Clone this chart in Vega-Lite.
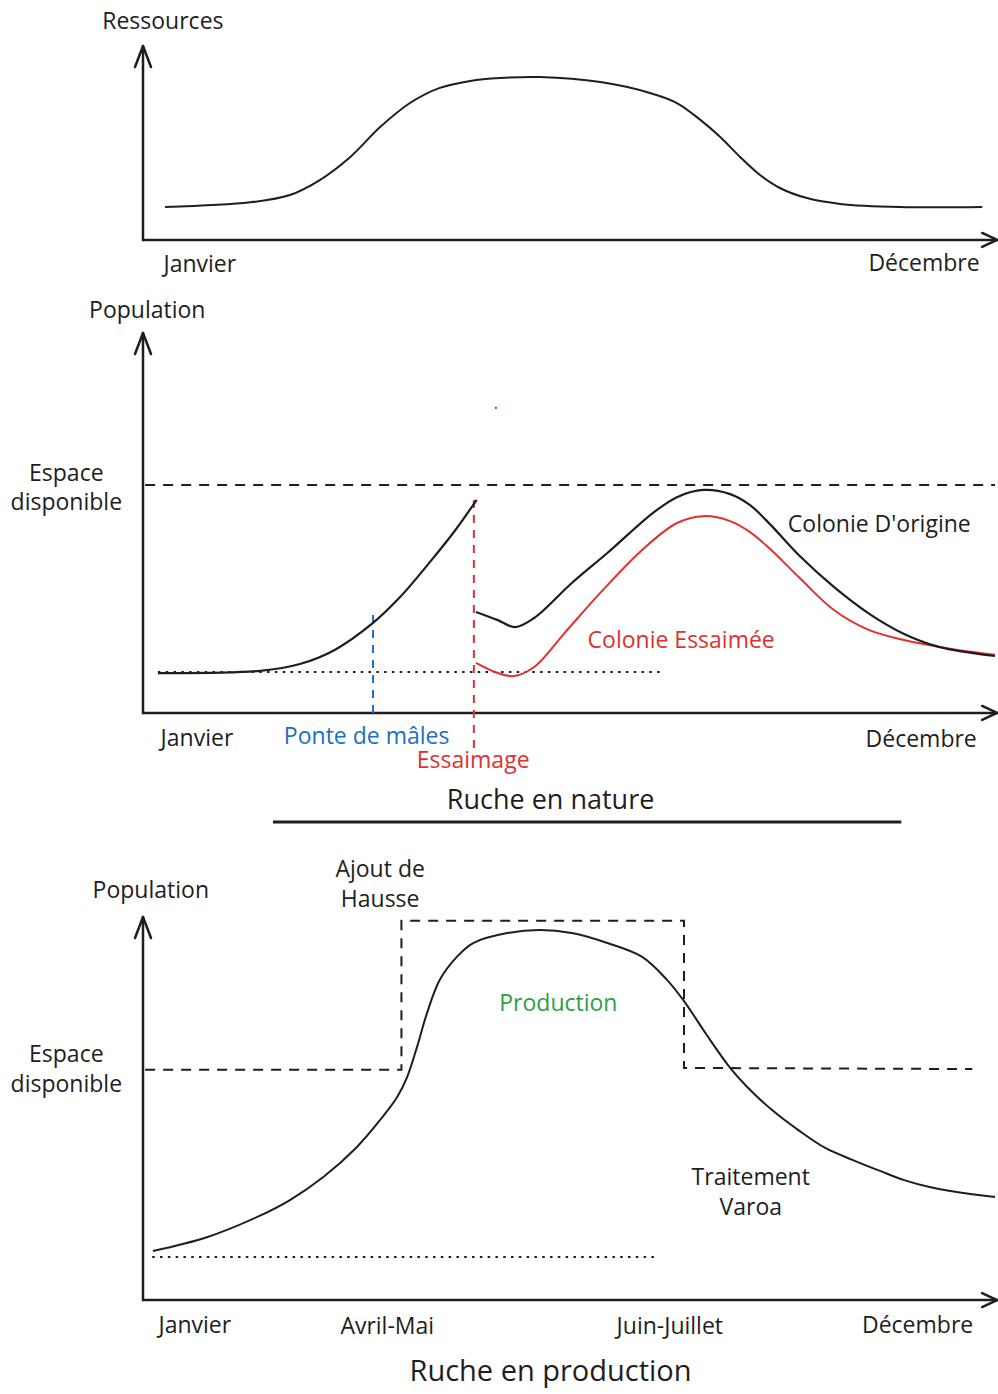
{
  "$schema": "https://vega.github.io/schema/vega-lite/v6.json",
  "autosize": {"type": "none"},
  "padding": {"left": 143, "top": 0, "right": 855, "bottom": 1394},
  "background": "white",
  "config": {"view": {"stroke": null}, "text": {"font": "Open Sans"}},
  "bounds": "flush",
  "spacing": 0,
  "resolve": {"scale": {"x": "independent", "y": "independent", "color": "independent", "shape": "independent"}},
  "datasets": {
    "axes": [{"m": 0, "v": 0, "m2": 12.03, "v2": 0}, {"m": 0, "v": 0, "m2": 0, "v2": 100}],
    "fleches": [{"m": 12.03, "v": 0, "axe": "x"}, {"m": 0, "v": 100, "axe": "y"}],
    "ressources": [
      {"m": 0.31, "v": 17.0}, {"m": 1.51, "v": 19.4}, {"m": 2.07, "v": 23.2}, {"m": 2.49, "v": 30.9},
      {"m": 2.92, "v": 42.8}, {"m": 3.34, "v": 58.2}, {"m": 3.76, "v": 70.6}, {"m": 4.18, "v": 78.4},
      {"m": 4.61, "v": 82.0}, {"m": 5.03, "v": 83.5}, {"m": 5.59, "v": 84.0}, {"m": 6.44, "v": 81.4},
      {"m": 7.14, "v": 75.8}, {"m": 7.52, "v": 70.6}, {"m": 7.85, "v": 61.9}, {"m": 8.13, "v": 53.1},
      {"m": 8.41, "v": 42.8}, {"m": 8.69, "v": 33.5}, {"m": 8.97, "v": 26.8}, {"m": 9.35, "v": 21.6},
      {"m": 9.82, "v": 18.6}, {"m": 10.66, "v": 17.0}, {"m": 11.82, "v": 17.0}
    ],
    "textes1": [
      {"label": "Ressources", "m": 0.28, "v": 112.4, "ton": "noir"},
      {"label": "Janvier", "m": 0.80, "v": -12.9, "ton": "noir"},
      {"label": "Décembre", "m": 11.0, "v": -12.4, "ton": "noir"}
    ],
    "origine": [
      {"m": 0.21, "v": 10.5, "seg": 1}, {"m": 1.65, "v": 11.1, "seg": 1}, {"m": 2.21, "v": 12.9, "seg": 1},
      {"m": 2.70, "v": 16.6, "seg": 1}, {"m": 3.24, "v": 23.7, "seg": 1}, {"m": 3.62, "v": 30.5, "seg": 1},
      {"m": 4.04, "v": 39.7, "seg": 1}, {"m": 4.39, "v": 47.9, "seg": 1}, {"m": 4.70, "v": 56.1, "seg": 1},
      {"m": 4.69, "v": 26.6, "seg": 2}, {"m": 4.99, "v": 24.5, "seg": 2}, {"m": 5.24, "v": 22.6, "seg": 2},
      {"m": 5.51, "v": 25.0, "seg": 2}, {"m": 6.04, "v": 34.2, "seg": 2}, {"m": 6.54, "v": 42.1, "seg": 2},
      {"m": 7.18, "v": 52.6, "seg": 2}, {"m": 7.52, "v": 56.8, "seg": 2}, {"m": 7.89, "v": 58.7, "seg": 2},
      {"m": 8.27, "v": 57.6, "seg": 2}, {"m": 8.55, "v": 54.7, "seg": 2}, {"m": 8.83, "v": 49.7, "seg": 2},
      {"m": 9.25, "v": 41.3, "seg": 2}, {"m": 9.73, "v": 33.2, "seg": 2}, {"m": 10.23, "v": 26.1, "seg": 2},
      {"m": 10.72, "v": 20.8, "seg": 2}, {"m": 11.21, "v": 17.4, "seg": 2}, {"m": 12.0, "v": 15.0, "seg": 2}
    ],
    "essaimee": [
      {"m": 4.69, "v": 13.2}, {"m": 4.96, "v": 10.8}, {"m": 5.21, "v": 9.7}, {"m": 5.51, "v": 12.1},
      {"m": 5.94, "v": 21.1}, {"m": 6.44, "v": 31.6}, {"m": 7.03, "v": 42.9}, {"m": 7.52, "v": 50.0},
      {"m": 7.89, "v": 51.8}, {"m": 8.27, "v": 50.5}, {"m": 8.55, "v": 47.6}, {"m": 8.83, "v": 43.2},
      {"m": 9.25, "v": 35.5}, {"m": 9.73, "v": 27.1}, {"m": 10.23, "v": 21.8}, {"m": 10.72, "v": 19.2},
      {"m": 11.21, "v": 17.4}, {"m": 12.0, "v": 15.3}
    ],
    "espace2": [{"m": 0.03, "v": 60.0, "m2": 12.0, "v2": 60.0}],
    "pointille2": [{"m": 0.21, "v": 10.8, "m2": 7.28, "v2": 10.8}],
    "ponte": [{"m": 3.24, "v": 0, "m2": 3.24, "v2": 27.1}],
    "essaimage": [{"m": 4.66, "v": -9.2, "m2": 4.66, "v2": 56.1}],
    "point2": [{"m": 4.97, "v": 80.3}],
    "souligne2": [{"m": 1.83, "v": -28.7, "m2": 10.68, "v2": -28.7}],
    "textes2": [
      {"label": "Population", "m": 0.06, "v": 105.8, "ton": "noir"},
      {"label": "Espace\ndisponible", "m": -1.08, "v": 62.9, "ton": "noir"},
      {"label": "Colonie D'origine", "m": 10.37, "v": 49.5, "ton": "noir"},
      {"label": "Colonie Essaimée", "m": 7.58, "v": 18.9, "ton": "rouge"},
      {"label": "Janvier", "m": 0.76, "v": -6.8, "ton": "noir"},
      {"label": "Ponte de mâles", "m": 3.15, "v": -6.3, "ton": "bleu"},
      {"label": "Essaimage", "m": 4.65, "v": -12.6, "ton": "rouge"},
      {"label": "Décembre", "m": 10.96, "v": -7.1, "ton": "noir"}
    ],
    "titre2": [{"label": "Ruche en nature", "m": 5.74, "v": -23.2}],
    "production": [
      {"m": 0.14, "v": 12.8}, {"m": 0.90, "v": 16.4}, {"m": 1.61, "v": 21.7}, {"m": 2.07, "v": 26.1},
      {"m": 2.54, "v": 32.1}, {"m": 3.01, "v": 39.9}, {"m": 3.34, "v": 47.0}, {"m": 3.58, "v": 53.0},
      {"m": 3.72, "v": 58.2}, {"m": 3.86, "v": 66.1}, {"m": 4.00, "v": 74.9}, {"m": 4.18, "v": 83.6},
      {"m": 4.42, "v": 89.6}, {"m": 4.65, "v": 93.2}, {"m": 5.13, "v": 95.8}, {"m": 5.59, "v": 96.6},
      {"m": 6.04, "v": 95.8}, {"m": 6.54, "v": 93.2}, {"m": 7.03, "v": 89.6}, {"m": 7.38, "v": 83.6},
      {"m": 7.61, "v": 78.3}, {"m": 7.94, "v": 69.2}, {"m": 8.27, "v": 60.6}, {"m": 8.51, "v": 55.6},
      {"m": 8.86, "v": 49.6}, {"m": 9.25, "v": 44.1}, {"m": 9.61, "v": 39.7}, {"m": 9.99, "v": 36.6},
      {"m": 10.38, "v": 33.7}, {"m": 10.72, "v": 31.3}, {"m": 11.08, "v": 29.5}, {"m": 11.46, "v": 28.2},
      {"m": 12.0, "v": 26.9}
    ],
    "espace3": [
      {"i": 1, "m": 0.03, "v": 60.1}, {"i": 2, "m": 3.64, "v": 60.1}, {"i": 3, "m": 3.64, "v": 99.0},
      {"i": 4, "m": 7.62, "v": 99.0}, {"i": 5, "m": 7.62, "v": 60.6}, {"i": 6, "m": 11.68, "v": 60.3}
    ],
    "pointille3": [{"m": 0.13, "v": 11.2, "m2": 7.24, "v2": 11.2}],
    "textes3": [
      {"label": "Population", "m": 0.11, "v": 106.8, "ton": "noir"},
      {"label": "Ajout de\nHausse", "m": 3.34, "v": 112.3, "ton": "noir"},
      {"label": "Espace\ndisponible", "m": -1.08, "v": 64.0, "ton": "noir"},
      {"label": "Production", "m": 5.85, "v": 77.3, "ton": "vert"},
      {"label": "Traitement\nVaroa", "m": 8.56, "v": 31.9, "ton": "noir"},
      {"label": "Janvier", "m": 0.73, "v": -6.8, "ton": "noir"},
      {"label": "Avril-Mai", "m": 3.44, "v": -7.0, "ton": "noir"},
      {"label": "Juin-Juillet", "m": 7.42, "v": -7.0, "ton": "noir"},
      {"label": "Décembre", "m": 10.91, "v": -6.8, "ton": "noir"}
    ],
    "titre3": [{"label": "Ruche en production", "m": 5.74, "v": -18.8}]
  },
  "vconcat": [
    {
      "width": 852, "height": 285,
      "layer": [
        {"data": {"name": "axes"},
         "mark": {"type": "rule", "color": "#1e1e1e", "strokeWidth": 2.5, "strokeCap": "round"},
         "encoding": {
           "x": {"field": "m", "type": "quantitative", "scale": {"domain": [0, 12], "nice": false, "zero": false}, "axis": null},
           "x2": {"field": "m2"},
           "y": {"field": "v", "type": "quantitative", "scale": {"domain": [-23.2, 123.7], "nice": false, "zero": false}, "axis": null},
           "y2": {"field": "v2"}}},
        {"data": {"name": "fleches"},
         "mark": {"type": "point", "filled": false, "color": "#1e1e1e", "strokeWidth": 2.5, "size": 1600, "opacity": 1, "strokeCap": "round", "strokeJoin": "round"},
         "encoding": {
           "x": {"field": "m", "type": "quantitative", "scale": {"domain": [0, 12], "nice": false, "zero": false}, "axis": null},
           "y": {"field": "v", "type": "quantitative", "scale": {"domain": [-23.2, 123.7], "nice": false, "zero": false}, "axis": null},
           "shape": {"field": "axe", "type": "nominal", "scale": {"domain": ["x", "y"], "range": ["M-0.75,-0.35L0,0L-0.75,0.35", "M-0.4,1.05L0,0L0.4,1.05"]}, "legend": null}}},
        {"data": {"name": "ressources"},
         "mark": {"type": "line", "color": "#1e1e1e", "strokeWidth": 2, "interpolate": "catmull-rom"},
         "encoding": {
           "x": {"field": "m", "type": "quantitative", "scale": {"domain": [0, 12], "nice": false, "zero": false}, "axis": null},
           "y": {"field": "v", "type": "quantitative", "scale": {"domain": [-23.2, 123.7], "nice": false, "zero": false}, "axis": null}}},
        {"data": {"name": "textes1"},
         "mark": {"type": "text", "font": "Open Sans", "fontSize": 23, "align": "center", "baseline": "middle", "lineBreak": "\n", "lineHeight": 29},
         "encoding": {
           "x": {"field": "m", "type": "quantitative", "scale": {"domain": [0, 12], "nice": false, "zero": false}, "axis": null},
           "y": {"field": "v", "type": "quantitative", "scale": {"domain": [-23.2, 123.7], "nice": false, "zero": false}, "axis": null},
           "text": {"field": "label"},
           "color": {"field": "ton", "type": "nominal", "scale": {"domain": ["noir", "rouge", "bleu", "vert"], "range": ["#1e1e1e", "#e03131", "#1971c2", "#2f9e44"]}, "legend": null}}}
      ]
    },
    {
      "width": 852, "height": 560,
      "layer": [
        {"data": {"name": "axes"},
         "mark": {"type": "rule", "color": "#1e1e1e", "strokeWidth": 2.5, "strokeCap": "round"},
         "encoding": {
           "x": {"field": "m", "type": "quantitative", "scale": {"domain": [0, 12], "nice": false, "zero": false}, "axis": null},
           "x2": {"field": "m2"},
           "y": {"field": "v", "type": "quantitative", "scale": {"domain": [-34.74, 112.63], "nice": false, "zero": false}, "axis": null},
           "y2": {"field": "v2"}}},
        {"data": {"name": "fleches"},
         "mark": {"type": "point", "filled": false, "color": "#1e1e1e", "strokeWidth": 2.5, "size": 1600, "opacity": 1, "strokeCap": "round", "strokeJoin": "round"},
         "encoding": {
           "x": {"field": "m", "type": "quantitative", "scale": {"domain": [0, 12], "nice": false, "zero": false}, "axis": null},
           "y": {"field": "v", "type": "quantitative", "scale": {"domain": [-34.74, 112.63], "nice": false, "zero": false}, "axis": null},
           "shape": {"field": "axe", "type": "nominal", "scale": {"domain": ["x", "y"], "range": ["M-0.75,-0.35L0,0L-0.75,0.35", "M-0.4,1.05L0,0L0.4,1.05"]}, "legend": null}}},
        {"data": {"name": "espace2"},
         "mark": {"type": "rule", "color": "#1e1e1e", "strokeWidth": 2, "strokeDash": [10, 8]},
         "encoding": {
           "x": {"field": "m", "type": "quantitative", "scale": {"domain": [0, 12], "nice": false, "zero": false}, "axis": null},
           "x2": {"field": "m2"},
           "y": {"field": "v", "type": "quantitative", "scale": {"domain": [-34.74, 112.63], "nice": false, "zero": false}, "axis": null},
           "y2": {"field": "v2"}}},
        {"data": {"name": "pointille2"},
         "mark": {"type": "rule", "color": "#1e1e1e", "strokeWidth": 2, "strokeDash": [2.5, 5.3]},
         "encoding": {
           "x": {"field": "m", "type": "quantitative", "scale": {"domain": [0, 12], "nice": false, "zero": false}, "axis": null},
           "x2": {"field": "m2"},
           "y": {"field": "v", "type": "quantitative", "scale": {"domain": [-34.74, 112.63], "nice": false, "zero": false}, "axis": null},
           "y2": {"field": "v2"}}},
        {"data": {"name": "ponte"},
         "mark": {"type": "rule", "color": "#1971c2", "strokeWidth": 2, "strokeDash": [8, 7]},
         "encoding": {
           "x": {"field": "m", "type": "quantitative", "scale": {"domain": [0, 12], "nice": false, "zero": false}, "axis": null},
           "x2": {"field": "m2"},
           "y": {"field": "v", "type": "quantitative", "scale": {"domain": [-34.74, 112.63], "nice": false, "zero": false}, "axis": null},
           "y2": {"field": "v2"}}},
        {"data": {"name": "essaimage"},
         "mark": {"type": "rule", "color": "#e03131", "strokeWidth": 2, "strokeDash": [8, 7]},
         "encoding": {
           "x": {"field": "m", "type": "quantitative", "scale": {"domain": [0, 12], "nice": false, "zero": false}, "axis": null},
           "x2": {"field": "m2"},
           "y": {"field": "v", "type": "quantitative", "scale": {"domain": [-34.74, 112.63], "nice": false, "zero": false}, "axis": null},
           "y2": {"field": "v2"}}},
        {"data": {"name": "essaimee"},
         "mark": {"type": "line", "color": "#e03131", "strokeWidth": 2, "interpolate": "catmull-rom"},
         "encoding": {
           "x": {"field": "m", "type": "quantitative", "scale": {"domain": [0, 12], "nice": false, "zero": false}, "axis": null},
           "y": {"field": "v", "type": "quantitative", "scale": {"domain": [-34.74, 112.63], "nice": false, "zero": false}, "axis": null}}},
        {"data": {"name": "origine"},
         "mark": {"type": "line", "color": "#1e1e1e", "strokeWidth": 2.2, "interpolate": "catmull-rom"},
         "encoding": {
           "x": {"field": "m", "type": "quantitative", "scale": {"domain": [0, 12], "nice": false, "zero": false}, "axis": null},
           "y": {"field": "v", "type": "quantitative", "scale": {"domain": [-34.74, 112.63], "nice": false, "zero": false}, "axis": null},
           "detail": {"field": "seg", "type": "nominal"}}},
        {"data": {"name": "point2"},
         "mark": {"type": "point", "filled": true, "color": "#e03131", "size": 6, "opacity": 1},
         "encoding": {
           "x": {"field": "m", "type": "quantitative", "scale": {"domain": [0, 12], "nice": false, "zero": false}, "axis": null},
           "y": {"field": "v", "type": "quantitative", "scale": {"domain": [-34.74, 112.63], "nice": false, "zero": false}, "axis": null}}},
        {"data": {"name": "souligne2"},
         "mark": {"type": "rule", "color": "#1e1e1e", "strokeWidth": 3},
         "encoding": {
           "x": {"field": "m", "type": "quantitative", "scale": {"domain": [0, 12], "nice": false, "zero": false}, "axis": null},
           "x2": {"field": "m2"},
           "y": {"field": "v", "type": "quantitative", "scale": {"domain": [-34.74, 112.63], "nice": false, "zero": false}, "axis": null},
           "y2": {"field": "v2"}}},
        {"data": {"name": "textes2"},
         "mark": {"type": "text", "font": "Open Sans", "fontSize": 23, "align": "center", "baseline": "middle", "lineBreak": "\n", "lineHeight": 29},
         "encoding": {
           "x": {"field": "m", "type": "quantitative", "scale": {"domain": [0, 12], "nice": false, "zero": false}, "axis": null},
           "y": {"field": "v", "type": "quantitative", "scale": {"domain": [-34.74, 112.63], "nice": false, "zero": false}, "axis": null},
           "text": {"field": "label"},
           "color": {"field": "ton", "type": "nominal", "scale": {"domain": ["noir", "rouge", "bleu", "vert"], "range": ["#1e1e1e", "#e03131", "#1971c2", "#2f9e44"]}, "legend": null}}},
        {"data": {"name": "titre2"},
         "mark": {"type": "text", "font": "Open Sans", "fontSize": 27, "align": "center", "baseline": "middle", "color": "#1e1e1e"},
         "encoding": {
           "x": {"field": "m", "type": "quantitative", "scale": {"domain": [0, 12], "nice": false, "zero": false}, "axis": null},
           "y": {"field": "v", "type": "quantitative", "scale": {"domain": [-34.74, 112.63], "nice": false, "zero": false}, "axis": null},
           "text": {"field": "label"}}}
      ]
    },
    {
      "width": 852, "height": 549,
      "layer": [
        {"data": {"name": "axes"},
         "mark": {"type": "rule", "color": "#1e1e1e", "strokeWidth": 2.5, "strokeCap": "round"},
         "encoding": {
           "x": {"field": "m", "type": "quantitative", "scale": {"domain": [0, 12], "nice": false, "zero": false}, "axis": null},
           "x2": {"field": "m2"},
           "y": {"field": "v", "type": "quantitative", "scale": {"domain": [-24.54, 118.8], "nice": false, "zero": false}, "axis": null},
           "y2": {"field": "v2"}}},
        {"data": {"name": "fleches"},
         "mark": {"type": "point", "filled": false, "color": "#1e1e1e", "strokeWidth": 2.5, "size": 1600, "opacity": 1, "strokeCap": "round", "strokeJoin": "round"},
         "encoding": {
           "x": {"field": "m", "type": "quantitative", "scale": {"domain": [0, 12], "nice": false, "zero": false}, "axis": null},
           "y": {"field": "v", "type": "quantitative", "scale": {"domain": [-24.54, 118.8], "nice": false, "zero": false}, "axis": null},
           "shape": {"field": "axe", "type": "nominal", "scale": {"domain": ["x", "y"], "range": ["M-0.75,-0.35L0,0L-0.75,0.35", "M-0.4,1.05L0,0L0.4,1.05"]}, "legend": null}}},
        {"data": {"name": "espace3"},
         "mark": {"type": "line", "color": "#1e1e1e", "strokeWidth": 2, "strokeDash": [10, 8], "interpolate": "linear"},
         "encoding": {
           "x": {"field": "m", "type": "quantitative", "scale": {"domain": [0, 12], "nice": false, "zero": false}, "axis": null},
           "y": {"field": "v", "type": "quantitative", "scale": {"domain": [-24.54, 118.8], "nice": false, "zero": false}, "axis": null},
           "order": {"field": "i", "type": "quantitative"}}},
        {"data": {"name": "pointille3"},
         "mark": {"type": "rule", "color": "#1e1e1e", "strokeWidth": 2, "strokeDash": [2.5, 5.3]},
         "encoding": {
           "x": {"field": "m", "type": "quantitative", "scale": {"domain": [0, 12], "nice": false, "zero": false}, "axis": null},
           "x2": {"field": "m2"},
           "y": {"field": "v", "type": "quantitative", "scale": {"domain": [-24.54, 118.8], "nice": false, "zero": false}, "axis": null},
           "y2": {"field": "v2"}}},
        {"data": {"name": "production"},
         "mark": {"type": "line", "color": "#1e1e1e", "strokeWidth": 2, "interpolate": "catmull-rom"},
         "encoding": {
           "x": {"field": "m", "type": "quantitative", "scale": {"domain": [0, 12], "nice": false, "zero": false}, "axis": null},
           "y": {"field": "v", "type": "quantitative", "scale": {"domain": [-24.54, 118.8], "nice": false, "zero": false}, "axis": null}}},
        {"data": {"name": "textes3"},
         "mark": {"type": "text", "font": "Open Sans", "fontSize": 23, "align": "center", "baseline": "middle", "lineBreak": "\n", "lineHeight": 30},
         "encoding": {
           "x": {"field": "m", "type": "quantitative", "scale": {"domain": [0, 12], "nice": false, "zero": false}, "axis": null},
           "y": {"field": "v", "type": "quantitative", "scale": {"domain": [-24.54, 118.8], "nice": false, "zero": false}, "axis": null},
           "text": {"field": "label"},
           "color": {"field": "ton", "type": "nominal", "scale": {"domain": ["noir", "rouge", "bleu", "vert"], "range": ["#1e1e1e", "#e03131", "#1971c2", "#2f9e44"]}, "legend": null}}},
        {"data": {"name": "titre3"},
         "mark": {"type": "text", "font": "Open Sans", "fontSize": 29, "align": "center", "baseline": "middle", "color": "#1e1e1e"},
         "encoding": {
           "x": {"field": "m", "type": "quantitative", "scale": {"domain": [0, 12], "nice": false, "zero": false}, "axis": null},
           "y": {"field": "v", "type": "quantitative", "scale": {"domain": [-24.54, 118.8], "nice": false, "zero": false}, "axis": null},
           "text": {"field": "label"}}}
      ]
    }
  ]
}
